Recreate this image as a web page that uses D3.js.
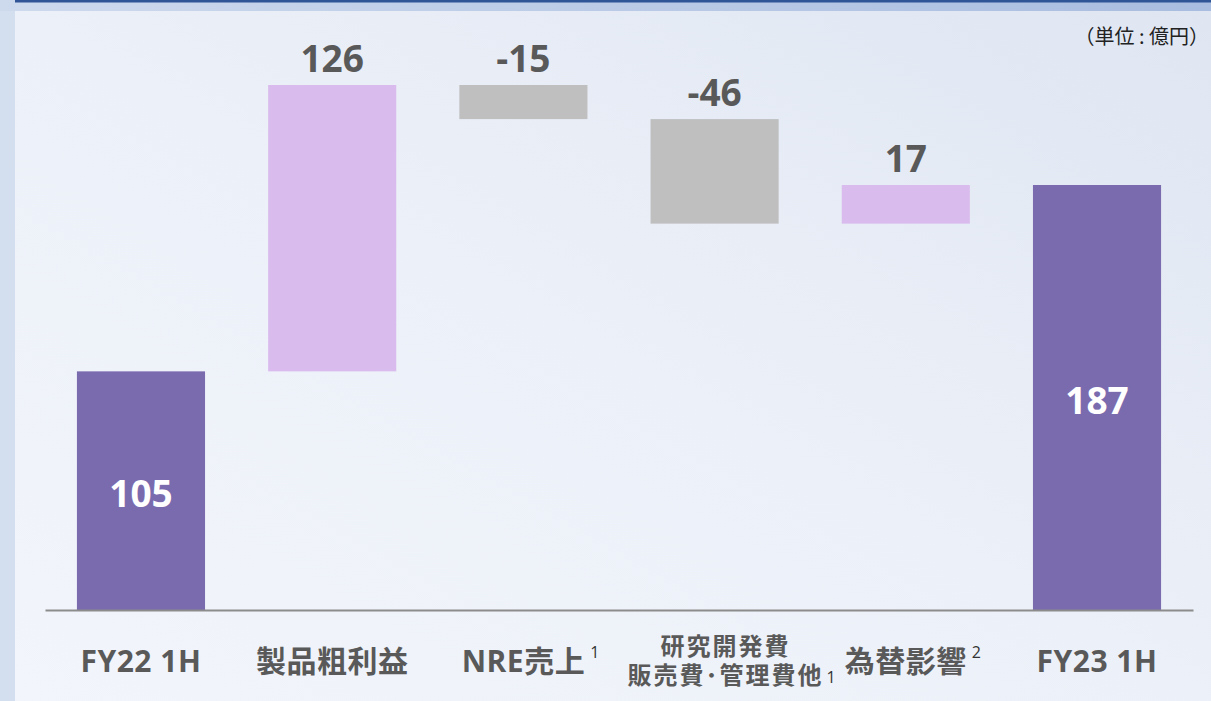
<!DOCTYPE html>
<html>
<head>
<meta charset="utf-8">
<script src="https://cdn.jsdelivr.net/npm/d3@7"></script>
<style>
  body { margin: 0; background: #d3deef; }
  svg { display: block; }
</style>
</head>
<body>
<svg width="1211" height="701"></svg>
<script>
// waterfall data (億円)
const categories = ["FY22 1H", "製品粗利益", "NRE売上", "研究開発費\n販売費･管理費他", "為替影響", "FY23 1H"];
const values = [105, 126, -15, -46, 17, 187];
const kinds = ["total", "delta", "delta", "delta", "delta", "total"];
const notes = ["", "", "1", "1", "2", ""];
const unitLabel = "（単位 : 億円）";

const colors = { total: "#7a6baf", up: "#d9bced", down: "#bfbfbf" };

const svg = d3.select("svg");
const width = +svg.attr("width");
const height = +svg.attr("height");

// background
const defs = svg.append("defs");
const bg = defs.append("linearGradient").attr("id", "bg")
  .attr("x1", 0).attr("y1", 1).attr("x2", 1).attr("y2", 0);
bg.append("stop").attr("offset", 0).attr("stop-color", "#f2f5fb");
bg.append("stop").attr("offset", 0.5).attr("stop-color", "#ecf0f8");
bg.append("stop").attr("offset", 1).attr("stop-color", "#dfe6f2");
const band = defs.append("linearGradient").attr("id", "band");
band.append("stop").attr("offset", 0).attr("stop-color", "#cdd9ed");
band.append("stop").attr("offset", 1).attr("stop-color", "#a9bde0");

svg.append("rect").attr("width", width).attr("height", height).attr("fill", "#d3deef");
svg.append("rect").attr("x", 0).attr("y", 0).attr("width", width).attr("height", 11).attr("fill", "url(#band)");
svg.append("rect").attr("x", 15).attr("y", 0).attr("width", width - 15).attr("height", 2.5).attr("fill", "#2f5597");
svg.append("rect").attr("x", 15).attr("y", 11).attr("width", width - 15).attr("height", height - 11).attr("fill", "url(#bg)");

// running totals
let run = 0;
const rows = categories.map((c, i) => {
  let y0, y1;
  if (kinds[i] === "total") { y0 = 0; y1 = values[i]; run = values[i]; }
  else { y0 = run; y1 = run + values[i]; run = y1; }
  return { cat: c, value: values[i], kind: kinds[i], note: notes[i], lo: Math.min(y0, y1), hi: Math.max(y0, y1) };
});

const x = d3.scaleBand()
  .domain(categories)
  .range([45, 1193])
  .paddingInner(0.33)
  .paddingOuter(0.167);

const y = d3.scaleLinear()
  .domain([0, 187])
  .range([610, 185]);

const fill = d => d.kind === "total" ? colors.total : (d.value >= 0 ? colors.up : colors.down);

svg.append("g")
  .selectAll("rect")
  .data(rows)
  .enter()
  .append("rect")
  .attr("x", d => x(d.cat))
  .attr("width", x.bandwidth())
  .attr("y", d => y(d.hi))
  .attr("height", d => y(d.lo) - y(d.hi))
  .attr("fill", fill);

// baseline
const axis = svg.append("g")
  .attr("transform", `translate(0,${y(0)})`)
  .call(d3.axisBottom(x).tickSize(0).tickSizeOuter(0).tickFormat(""));
axis.select(".domain").attr("stroke", "#8c8c8c").attr("stroke-width", 2);

const font = "'Open Sans', 'Noto Sans CJK JP', sans-serif";

// value labels
svg.append("g")
  .selectAll("text")
  .data(rows)
  .enter()
  .append("text")
  .attr("x", d => x(d.cat) + x.bandwidth() / 2)
  .attr("y", d => d.kind === "total" ? (y(d.lo) + y(d.hi)) / 2 + 16 : y(d.hi) - 13)
  .attr("text-anchor", "middle")
  .attr("font-family", font)
  .attr("font-weight", 700)
  .attr("font-size", 37)
  .attr("fill", d => d.kind === "total" ? "#ffffff" : "#595959")
  .text(d => d.value);

// category labels (multi-line ones as tspans of one text)
const labels = svg.append("g");
rows.forEach(d => {
  const lines = d.cat.split("\n");
  const multi = lines.length > 1;
  const cx = x(d.cat) + x.bandwidth() / 2 + (multi ? 11 : 0);
  const size = multi ? 24 : 30;
  const base = multi ? 655 : 672;
  const t = labels.append("text")
    .attr("y", base)
    .attr("text-anchor", "middle")
    .attr("font-family", font)
    .attr("font-weight", 700)
    .attr("font-size", size)
    .attr("letter-spacing", multi ? 2 : 0.5)
    .attr("fill", "#595959");
  let last;
  lines.forEach((ln, j) => {
    last = t.append("tspan")
      .attr("x", cx)
      .attr("dy", j === 0 ? 0 : 29)
      .text(ln);
  });
  if (d.note) {
    const len = last.node().getComputedTextLength();
    labels.append("text")
      .attr("x", cx + len / 2 + (multi ? 3 : 5))
      .attr("y", base + (lines.length - 1) * 29 - (multi ? 1 : 14))
      .attr("font-family", font)
      .attr("font-size", 16)
      .attr("fill", "#333333")
      .text(d.note);
  }
});

// unit
svg.append("text")
  .attr("x", 1209)
  .attr("y", 44)
  .attr("text-anchor", "end")
  .attr("font-family", "'Noto Sans CJK JP', sans-serif")
  .attr("font-size", 20)
  .attr("fill", "#222222")
  .text(unitLabel);
</script>
</body>
</html>
